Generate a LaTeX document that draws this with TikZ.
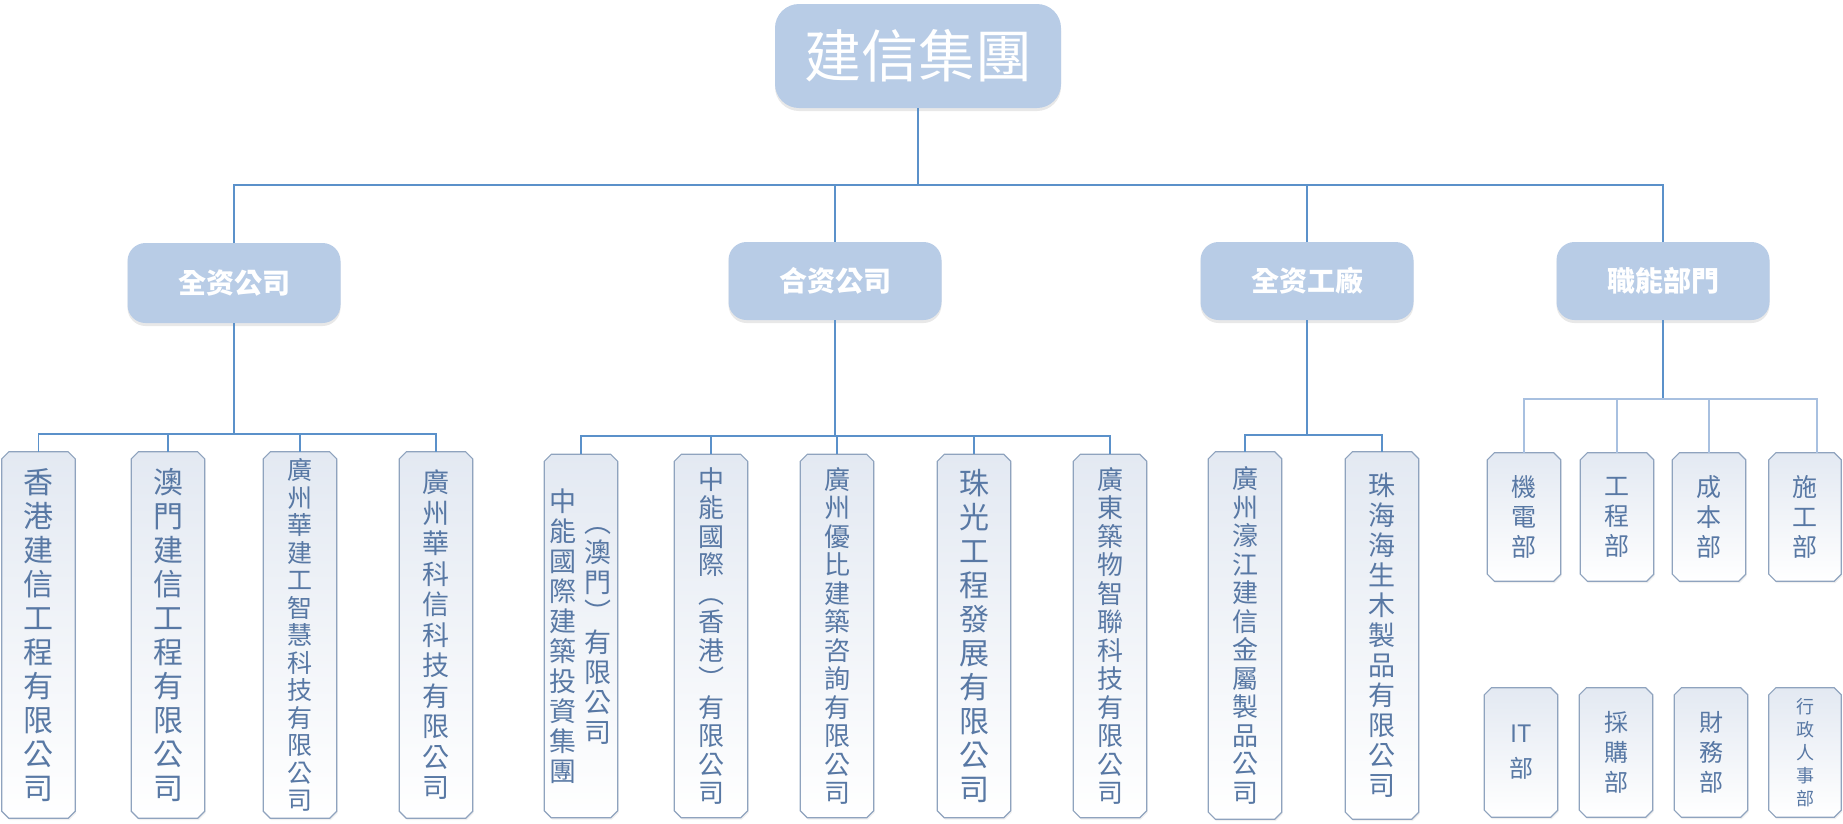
\documentclass[tikz,border=0pt]{standalone}
\usepackage{fontspec}
\setmainfont{Noto Sans CJK TC}
\usetikzlibrary{calc,shadows}
\definecolor{hdfill}{HTML}{B8CCE6}
\definecolor{conn}{HTML}{5B91CA}
\definecolor{connlt}{HTML}{A8C0E0}
\definecolor{leafdraw}{HTML}{8FA3BE}
\definecolor{leaftop}{HTML}{E3E9F2}
\definecolor{leaftext}{HTML}{5878A4}
\tikzset{
  hd/.style={rectangle, rounded corners=18pt, fill=hdfill, text=white, inner sep=0pt,
    drop shadow={opacity=0.18, shadow xshift=0pt, shadow yshift=-3pt}},
  leafnode/.style={rectangle, inner sep=0pt, draw=none},
  leafpath/.style={draw=leafdraw, line width=1.2pt, top color=leaftop, bottom color=white,
    drop shadow={opacity=0.12, shadow xshift=1pt, shadow yshift=-2pt}},
  vtext/.style={inner sep=0pt, align=center, text=leaftext},
  conn/.style={draw=conn, line width=1.6pt},
  connl/.style={draw=connlt, line width=1.3pt},
}
\newcommand\leaf[5]{%
  \node[leafnode, minimum width=#4pt, minimum height=#5pt] (#1) at (#2,#3) {};
  \path[leafpath] ($(#1.north west)+(7,0)$) -- ($(#1.north east)+(-7,0)$) -- ($(#1.north east)+(0,7)$)
    -- ($(#1.south east)+(0,-7)$) -- ($(#1.south east)+(-7,0)$) -- ($(#1.south west)+(7,0)$)
    -- ($(#1.south west)+(0,-7)$) -- ($(#1.north west)+(0,7)$) -- cycle;
}
\newcommand\fs[2]{\fontsize{#1}{#2}\selectfont}
\begin{document}
\begin{tikzpicture}[x=1pt,y=-1pt]
\useasboundingbox (0,0) rectangle (1843,823);

% top and second row
\node[hd, rounded corners=24pt, minimum width=286pt, minimum height=104pt, font=\fs{57}{60}] (top) at (918,56) {建信集團};
\node[hd, minimum width=213pt, minimum height=80pt, font=\fs{28}{30}\bfseries] (n1) at (234,283) {全资公司};
\node[hd, minimum width=213pt, minimum height=78pt, font=\fs{28}{30}\bfseries] (n2) at (835,281) {合资公司};
\node[hd, minimum width=213pt, minimum height=78pt, font=\fs{28}{30}\bfseries] (n3) at (1307,281) {全资工廠};
\node[hd, minimum width=213pt, minimum height=78pt, font=\fs{28}{30}\bfseries] (n4) at (1663,281) {職能部門};

% leaves group 1
\leaf{l11}{38.5}{635}{73}{366}
\leaf{l12}{168}{635}{73}{366}
\leaf{l13}{300}{635}{73}{366}
\leaf{l14}{436}{635}{73}{366}
% group 2
\leaf{l21}{581}{636}{73}{363}
\leaf{l22}{711}{636}{73}{363}
\leaf{l23}{837}{636}{73}{363}
\leaf{l24}{974}{636}{73}{363}
\leaf{l25}{1110}{636}{73}{363}
% group 3
\leaf{l31}{1245}{635.5}{73}{367}
\leaf{l32}{1382}{635.5}{73}{367}
% group 4
\leaf{l41}{1524}{517}{73}{128}
\leaf{l42}{1617}{517}{73}{128}
\leaf{l43}{1709}{517}{73}{128}
\leaf{l44}{1805}{517}{72}{128}
\leaf{l45}{1521}{752.5}{73}{129}
\leaf{l46}{1616}{752.5}{73}{129}
\leaf{l47}{1711}{752.5}{73}{129}
\leaf{l48}{1805}{752.5}{72}{129}

% leaf texts
\node[vtext, font=\fs{30}{34}] (t11) at (l11) {香\\港\\建\\信\\工\\程\\有\\限\\公\\司};
\node[vtext, font=\fs{30}{34}] (t12) at (l12) {澳\\門\\建\\信\\工\\程\\有\\限\\公\\司};
\node[vtext, font=\fs{25}{27.5}] (t13) at (l13) {廣\\州\\華\\建\\工\\智\\慧\\科\\技\\有\\限\\公\\司};
\node[vtext, font=\fs{27}{30.5}] (t14) at (l14) {廣\\州\\華\\科\\信\\科\\技\\有\\限\\公\\司};
\node[vtext, font=\fs{27}{30}] (t21a) at ($(l21)+(-18,0)$) {中\\能\\國\\際\\建\\築\\投\\資\\集\\團};
\node[vtext, font=\fs{27}{30}] (t21b) at ($(l21)+(17,0)$) {︵\\澳\\門\\︶\\有\\限\\公\\司};
\node[vtext, font=\fs{26}{28.5}] (t22) at (l22) {中\\能\\國\\際\\︵\\香\\港\\︶\\有\\限\\公\\司};
\node[vtext, font=\fs{26}{28.5}] (t23) at (l23) {廣\\州\\優\\比\\建\\築\\咨\\詢\\有\\限\\公\\司};
\node[vtext, font=\fs{30}{34}] (t24) at (l24) {珠\\光\\工\\程\\發\\展\\有\\限\\公\\司};
\node[vtext, font=\fs{26}{28.5}] (t25) at (l25) {廣\\東\\築\\物\\智\\聯\\科\\技\\有\\限\\公\\司};
\node[vtext, font=\fs{26}{28.5}] (t31) at (l31) {廣\\州\\濠\\江\\建\\信\\金\\屬\\製\\品\\公\\司};
\node[vtext, font=\fs{27}{30}] (t32) at (l32) {珠\\海\\海\\生\\木\\製\\品\\有\\限\\公\\司};
\node[vtext, font=\fs{25}{30}] (t41) at (l41) {機\\電\\部};
\node[vtext, font=\fs{25}{30}] (t42) at (l42) {工\\程\\部};
\node[vtext, font=\fs{25}{30}] (t43) at (l43) {成\\本\\部};
\node[vtext, font=\fs{25}{30}] (t44) at (l44) {施\\工\\部};
\node[vtext, font=\fs{24}{35}] (t45) at (l45) {IT\\部};
\node[vtext, font=\fs{24}{30}] (t46) at (l46) {採\\購\\部};
\node[vtext, font=\fs{24}{30}] (t47) at (l47) {財\\務\\部};
\node[vtext, font=\fs{18}{23}] (t48) at (l48) {行\\政\\人\\事\\部};

% connectors
\coordinate (j0) at (0,185);
\coordinate (j1) at (0,434);
\coordinate (j2) at (0,436);
\coordinate (j3) at (0,435);
\coordinate (j4) at (0,399);
\foreach \n in {n1,n2,n3,n4}{
  \draw[conn] (top.south) -- (top.south|-j0) -| (\n.north);
}
\foreach \l in {l11,l12,l13,l14}{
  \draw[conn] (n1.south) -- (n1.south|-j1) -| (\l.north);
}
\foreach \l in {l21,l22,l23,l24,l25}{
  \draw[conn] (n2.south) -- (n2.south|-j2) -| (\l.north);
}
\foreach \l in {l31,l32}{
  \draw[conn] (n3.south) -- (n3.south|-j3) -| (\l.north);
}
\draw[conn] (n4.south) -- (n4.south|-j4);
\foreach \l in {l41,l42,l43}{
  \draw[connl] (n4.south|-j4) -| (\l.north);
}
\draw[connl] (n4.south|-j4) -| ([xshift=12pt]l44.north);
\end{tikzpicture}
\end{document}
